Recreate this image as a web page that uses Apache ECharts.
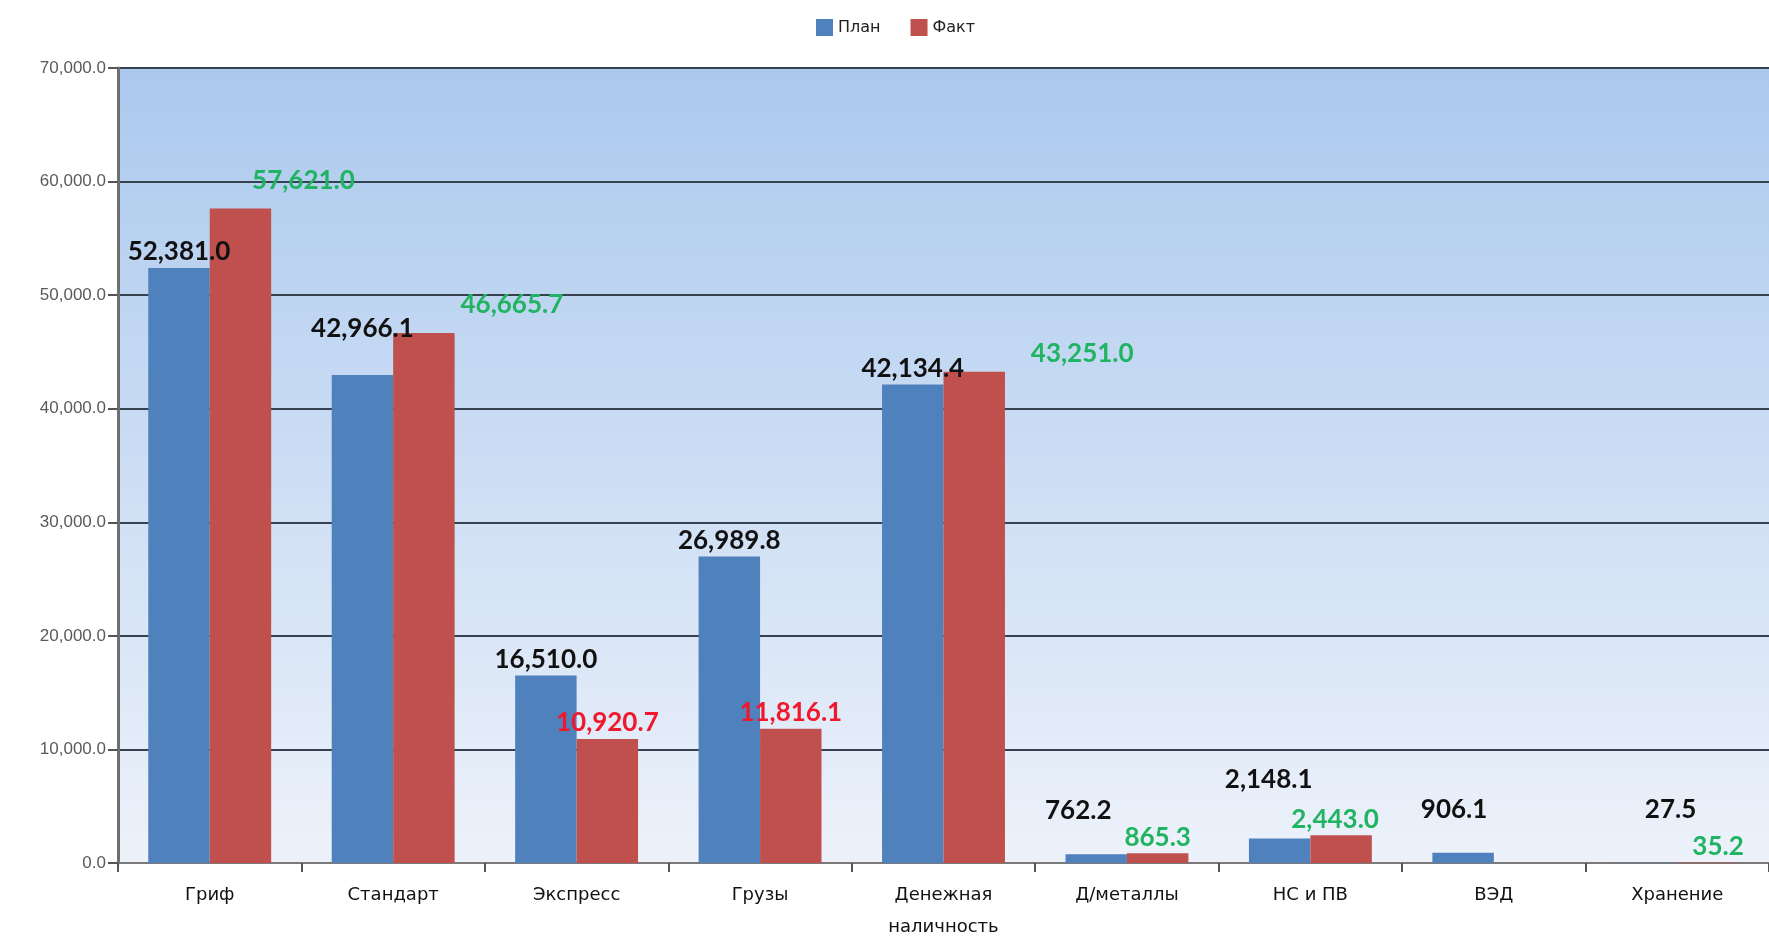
<!DOCTYPE html>
<html>
<head>
<meta charset="utf-8">
<script src="https://cdn.jsdelivr.net/npm/echarts@6/dist/echarts.min.js"></script>
<style>
html,body{margin:0;padding:0;background:#fff;}
#chart{width:1769px;height:937px;}
</style>
</head>
<body>
<div id="chart"></div>
<script>
const categories = ['Гриф', 'Стандарт', 'Экспресс', 'Грузы', 'Денежная\nналичность', 'Д/металлы', 'НС и ПВ', 'ВЭД', 'Хранение'];
const planValues = [52381.0, 42966.1, 16510.0, 26989.8, 42134.4, 762.2, 2148.1, 906.1, 27.5];
const factValues = [57621.0, 46665.7, 10920.7, 11816.1, 43251.0, 865.3, 2443.0, null, 35.2];
const yTicks = [0, 10000, 20000, 30000, 40000, 50000, 60000, 70000];

// label placement offsets (styling only)
const planLabelOffsets = [[0,0],[0,-30],[0,0],[0,0],[0,0],[-18,-28],[-11,-43],[-9,-27],[24,-37]];
const factLabelOffsets = [[63,-12],[88,-12],[0,0],[0,0],[108,-2],[0,0],[-6,0],[0,0],[10,0]];

const fmt = v => Number(v).toLocaleString('en-US', {minimumFractionDigits: 1, maximumFractionDigits: 1});
const GREEN = '#20b360', RED = '#f0182c';

const planData = planValues.map((v, i) => ({
  value: v,
  label: { offset: planLabelOffsets[i] }
}));
const factData = factValues.map((v, i) => v == null ? null : ({
  value: v,
  label: { offset: factLabelOffsets[i], color: v >= planValues[i] ? GREEN : RED }
}));

const chart = echarts.init(document.getElementById('chart'));
const labelFont = { fontFamily: 'Lato', fontSize: 26, fontWeight: 'bold' };
chart.setOption({
  animation: false,
  legend: {
    left: 811, top: 14,
    icon: 'rect', itemWidth: 17, itemHeight: 17, itemGap: 30,
    textStyle: { fontFamily: 'DejaVu Sans', fontSize: 16, color: '#222' },
    data: ['План', 'Факт']
  },
  grid: {
    left: 118, right: 0, top: 68, bottom: 74,
    outerBoundsMode: 'none', containLabel: false,
    show: true, borderWidth: 0,
    backgroundColor: new echarts.graphic.LinearGradient(0, 0, 0, 1, [
      { offset: 0, color: '#abc9ee' },
      { offset: 1, color: '#edf2fa' }
    ])
  },
  xAxis: {
    type: 'category',
    data: categories,
    axisLine: { lineStyle: { color: '#7a7a7a', width: 2 } },
    axisTick: { show: true, length: 9, lineStyle: { color: '#555', width: 2 } },
    axisLabel: { fontFamily: 'DejaVu Sans', fontSize: 18, color: '#111', margin: 16, lineHeight: 32 }
  },
  yAxis: {
    type: 'value', min: 0, max: 70000, interval: 10000,
    axisLine: { show: true, lineStyle: { color: '#6f6f6f', width: 3 } },
    axisTick: { show: true, length: 10, lineStyle: { color: '#555', width: 2 } },
    axisLabel: {
      fontFamily: 'Liberation Sans', fontSize: 17, color: '#5a5a5a', margin: 12,
      formatter: v => yTicks.includes(v) ? fmt(v) : ''
    },
    splitLine: { lineStyle: { color: '#36424f', width: 2 } }
  },
  series: [
    {
      name: 'План', type: 'bar', data: planData,
      barGap: '0%', barCategoryGap: '33%',
      itemStyle: { color: '#4f81bd' },
      label: { show: true, position: 'top', distance: 3, color: '#111', ...labelFont, formatter: p => fmt(p.value) }
    },
    {
      name: 'Факт', type: 'bar', data: factData,
      barGap: '0%', barCategoryGap: '33%',
      itemStyle: { color: '#c0504d' },
      label: { show: true, position: 'top', distance: 3, ...labelFont, formatter: p => fmt(p.value) }
    }
  ]
});
</script>
</body>
</html>
